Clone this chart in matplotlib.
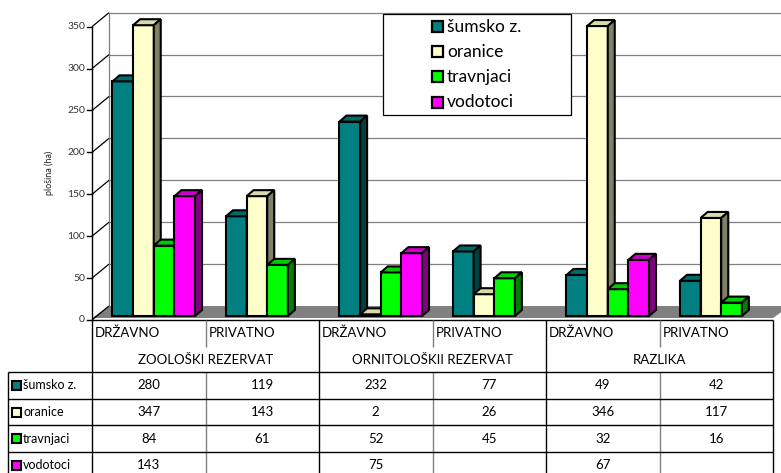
import matplotlib
matplotlib.use("Agg")
import matplotlib.pyplot as plt
from matplotlib.patches import Polygon, Rectangle

plt.rcParams['font.family'] = ['Lato', 'DejaVu Sans']

# ---- data -------------------------------------------------------------
categories = ["DRŽAVNO", "PRIVATNO", "DRŽAVNO", "PRIVATNO", "DRŽAVNO", "PRIVATNO"]
groups = ["ZOOLOŠKI REZERVAT", "ORNITOLOŠKII REZERVAT", "RAZLIKA"]
series_names = ["šumsko z.", "oranice", "travnjaci", "vodotoci"]
sumsko = [280, 119, 232, 77, 49, 42]
oranice = [347, 143, 2, 26, 346, 117]
travnjaci = [84, 61, 52, 45, 32, 16]
vodotoci = [143, None, 75, None, 67, None]
values = [sumsko, oranice, travnjaci, vodotoci]
y_ticks = [0, 50, 100, 150, 200, 250, 300, 350]
y_label = "plošina (ha)"

front_colors = ["#008080", "#FFFFCC", "#00FF00", "#FF00FF"]
top_colors = ["#006B6B", "#D9D9AE", "#00CC00", "#CC00CC"]
side_colors = ["#003F3F", "#808066", "#008000", "#800080"]

# ---- figure / plot area ------------------------------------------------
W, H = 781, 473
fig = plt.figure(figsize=(W / 100, H / 100), dpi=100)

PX_LEFT, PX_RIGHT = 92, 773
PX_BASE = 320
PX_PER_UNIT = (320 - 26.7) / 350
PX_TOP = 6

ax = fig.add_axes([PX_LEFT / W, 1 - PX_BASE / H,
                   (PX_RIGHT - PX_LEFT) / W, (PX_BASE - PX_TOP) / H])
n = len(categories)
ax.set_xlim(0, n)
ax.set_ylim(0, (PX_BASE - PX_TOP) / PX_PER_UNIT)
ax.axis('off')

ux = n / (PX_RIGHT - PX_LEFT)   # category units per pixel
uy = 1 / PX_PER_UNIT            # value units per pixel

wall_dx, wall_dy = 17 * ux, 14 * uy
bar_dx, bar_dy = 7 * ux, 6 * uy
shift_dx, shift_dy = (wall_dx - bar_dx) / 2, (wall_dy - bar_dy) / 2
ymax = y_ticks[-1]

# floor
floor = Polygon([(0, 2 * uy), (n, 2 * uy), (n + wall_dx, wall_dy), (wall_dx, wall_dy)],
                closed=True, facecolor="#808080", edgecolor="none", clip_on=False, zorder=1)
ax.add_patch(floor)

# back wall grid and left wall
for v in y_ticks[1:]:
    ax.plot([wall_dx, n + wall_dx + 1], [v + wall_dy, v + wall_dy],
            color="#808080", lw=0.9, clip_on=False, zorder=1)
ax.plot([wall_dx, wall_dx], [wall_dy, ymax + wall_dy], color="#808080", lw=0.9,
        clip_on=False, zorder=1)
for v in y_ticks:
    ax.plot([0, wall_dx], [v, v + wall_dy], color="black", lw=0.9,
            clip_on=False, zorder=2, solid_capstyle='butt')

# front value axis
ax.plot([0, 0], [0, ymax], color="black", lw=1.0, clip_on=False, zorder=3)
for v in y_ticks:
    ax.plot([-5 * ux, 0], [v, v], color="black", lw=1.0, clip_on=False, zorder=3)
    ax.text(-7 * ux, v, str(v), ha="right", va="center", fontsize=7.5,
            color="#333333", clip_on=False)

# 3D columns
bw = 1 / (len(series_names) + 1.5)
for g in range(n):
    left = g + 0.75 * bw + shift_dx
    for s, ser in enumerate(values):
        val = ser[g]
        if val is None:
            continue
        x0 = left + s * bw
        x1 = x0 + bw
        y0 = shift_dy
        y1 = shift_dy + val
        kw = dict(closed=True, edgecolor="black", lw=1.5, joinstyle="miter",
                  clip_on=False, zorder=4)
        ax.add_patch(Polygon([(x0, y0), (x1, y0), (x1, y1), (x0, y1)],
                             facecolor=front_colors[s], **kw))
        ax.add_patch(Polygon([(x0, y1), (x1, y1), (x1 + bar_dx, y1 + bar_dy),
                              (x0 + bar_dx, y1 + bar_dy)],
                             facecolor=top_colors[s], **kw))
        ax.add_patch(Polygon([(x1, y0), (x1 + bar_dx, y0 + bar_dy),
                              (x1 + bar_dx, y1 + bar_dy), (x1, y1)],
                             facecolor=side_colors[s], **kw))

fig.text(49 / W, 1 - 173 / H, y_label, rotation=90, ha="center", va="center",
         fontsize=6.5, color="#222222")

# ---- overlay in pixel units: legend and data table ----------------------
ov = fig.add_axes([0, 0, 1, 1], zorder=5)
ov.set_xlim(0, W)
ov.set_ylim(H, 0)
ov.axis('off')
ov.patch.set_visible(False)

# legend
ov.add_patch(Rectangle((383, 14), 188, 101, facecolor="white", edgecolor="black", lw=0.9))
for i, name in enumerate(series_names):
    yc = 27 + 25 * i
    ov.add_patch(Rectangle((432, yc - 5.5), 11, 11, facecolor=front_colors[i],
                           edgecolor="black", lw=1.6))
    ov.text(447, yc, name, ha="left", va="center", fontsize=12.5, color="black")

# table
col_w = (PX_RIGHT - PX_LEFT) / n
col_edges = [PX_LEFT + k * col_w for k in range(n + 1)]
TAB_TOP = 320
ROW1_BOT = 347
HEAD_BOT = 372
ROW_H = 26.7
LBL_LEFT = 8
BOTTOM = H + 2

line = dict(color="black", lw=1.0, solid_capstyle='butt')
gline = dict(color="#808080", lw=1.0, solid_capstyle='butt')

ov.plot([PX_LEFT, PX_RIGHT], [TAB_TOP, TAB_TOP], **line)
for k in range(0, n + 1, 2):
    ov.plot([col_edges[k], col_edges[k]], [TAB_TOP, BOTTOM], **line)
for k in range(1, n, 2):
    ov.plot([col_edges[k], col_edges[k]], [TAB_TOP, ROW1_BOT], **gline)
    ov.plot([col_edges[k], col_edges[k]], [HEAD_BOT, BOTTOM], **gline)
ov.plot([LBL_LEFT, LBL_LEFT], [HEAD_BOT, BOTTOM], **line)
for r in range(len(series_names)):
    y = HEAD_BOT + r * ROW_H
    ov.plot([LBL_LEFT, PX_RIGHT], [y, y], **line)

for k, cat in enumerate(categories):
    ov.text(col_edges[k] + 3, 333, cat, ha="left", va="center", fontsize=9.5)
for j, grp in enumerate(groups):
    ov.text((col_edges[2 * j] + col_edges[2 * j + 2]) / 2, 359.5, grp,
            ha="center", va="center", fontsize=9.5)

for r, name in enumerate(series_names):
    yc = HEAD_BOT + r * ROW_H + ROW_H / 2
    ov.add_patch(Rectangle((12, yc - 4.5), 9, 9, facecolor=front_colors[r],
                           edgecolor="black", lw=1.5))
    ov.text(23, yc, name, ha="left", va="center", fontsize=9)
    for k in range(n):
        v = values[r][k]
        if v is None:
            continue
        ov.text((col_edges[k] + col_edges[k + 1]) / 2, yc, str(v),
                ha="center", va="center", fontsize=9.5)

fig.savefig("out.png", dpi=100)
